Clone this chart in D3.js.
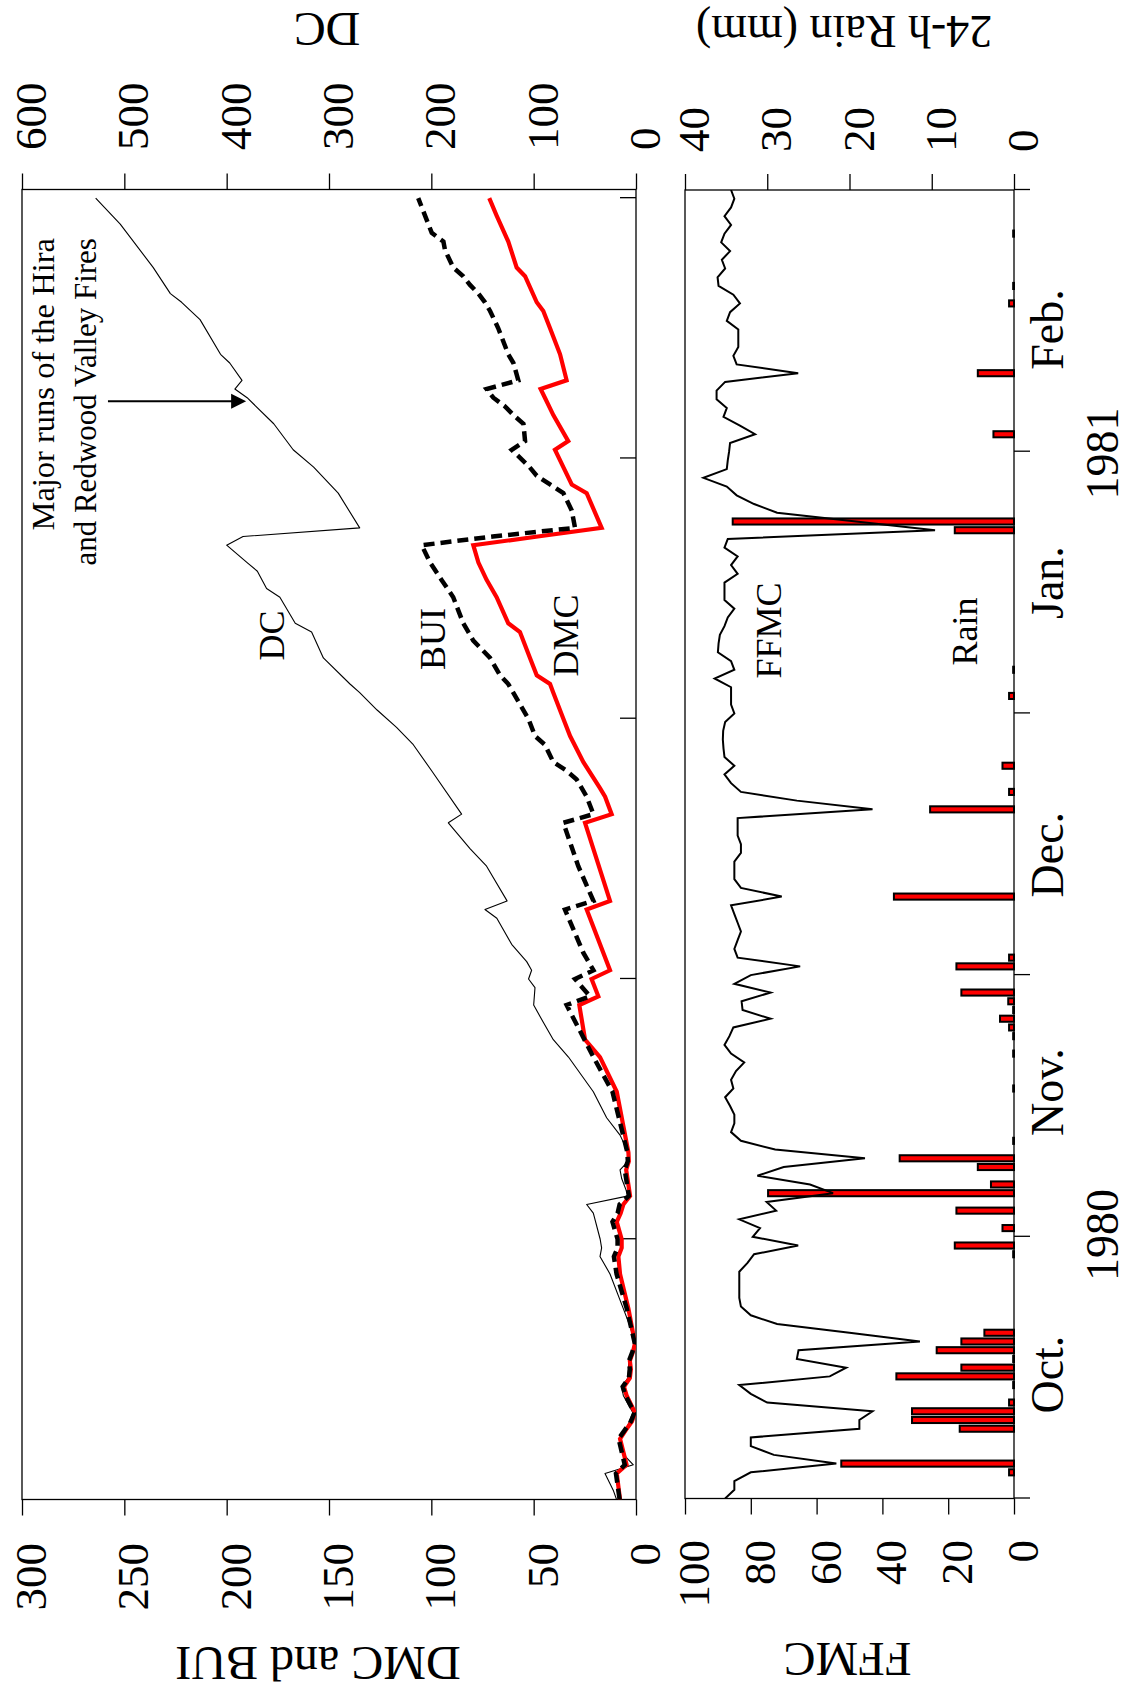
<!DOCTYPE html>
<html>
<head>
<meta charset="utf-8">
<script src="https://cdn.jsdelivr.net/npm/d3@7"></script>
<style>
  html, body { margin: 0; padding: 0; background: #fff; }
  svg { display: block; background: #fff; }
  text { font-family: "Liberation Serif", "Times New Roman", Times, serif; fill: #000; }
</style>
</head>
<body>
<svg id="chart" width="1127" height="1697"></svg>
<script>
// ---------------------------------------------------------------
// Fire weather indices, 1 Oct 1980 – 28 Feb 1981 (day 0 = 1 Oct)
// ---------------------------------------------------------------

// Duff Moisture Code (DMC)
const dmcDays = [0,3,4,7,8,9,10,12,13,14,15,16,17,18,22,26,28,29,30,32,33,34,35,38,39,40,47,51,53,57,58,60,61,68,69,78,79,81,82,85,88,90,93,94,95,97,100,101,104,106,108,110,111,112,116,117,119,121,122,125,127,128,129,132,135,137,138,141,142,145,148,150];
const dmcValues = [7.8,9.4,4.6,7.8,5,2,0.5,4.6,5.9,3,2.5,3,1.5,0.5,3.7,7.8,8.6,7.0,7.0,9.4,7.5,6.2,2.9,4.8,3.5,3.7,9.4,17.6,24.9,27.7,18.4,21.7,12.7,24.1,12.7,24.9,11.9,15.1,17.6,25.7,32.2,35.5,40.4,42,48.5,51.8,56.7,62.4,68.1,73,77,79.5,48,16.8,24.1,31.4,35.5,39.6,33.1,40.4,44.5,46.6,33.9,37.1,42,45.3,48.5,54.2,58.3,62.4,68.1,71.7];

// Buildup Index (BUI)
const buiDays = [0,3,4,7,8,9,10,12,13,14,15,16,17,18,22,26,28,29,30,32,33,34,35,38,39,40,47,51,57,58,60,61,63,68,69,73,78,79,81,83,84,85,87,88,90,92,94,95,97,98,99,101,104,106,108,110,111,112,114,116,117,118,119,121,122,124,125,126,127,128,129,131,132,135,137,138,139,140,141,142,144,145,146,150];
const buiValues = [8,9.8,5.5,8.5,5.5,2.5,0.8,5.2,6.5,3.5,3,3.4,1.8,0.6,4.5,9.5,10.8,9,9,11.5,9,8,3.5,5.5,4,4.2,11.5,20.8,33.9,22.5,29.8,20.8,25.7,34.7,20.8,28.2,35.5,20.8,24.1,29,33.9,40.4,44.5,49.3,52.6,57.5,62.4,66.4,71.3,75.4,79.5,84.4,89.3,95,100.6,104.7,70,29.8,31.4,35.5,42,48.5,52,60.7,54.2,55,59.9,64,69.7,73,57.5,59.9,62.4,67.3,71.3,73.8,77,81.1,84.4,89.3,93.3,94.1,99.8,106.4];

// Drought Code (DC)
const dcDays = [0,1,3,4,5,7,8,10,12,13,14,16,18,20,22,26,28,29,30,33,34,35,37,38,39,40,42,44,47,51,53,55,57,59,60,61,62,64,67,68,69,73,75,78,79,84,87,89,91,93,94,97,100,101,104,105,107,108,110,111,112,116,119,121,124,127,128,129,131,132,136,138,139,142,147,150];
const dcValues = [19,22,30.3,2.6,10.7,15,10,3,12.4,14,8,7,1,5.9,12.4,25.4,35.2,33.6,35,41.7,48.2,7.5,14,15.6,7.5,7.5,15.6,28.7,41.7,66,80.8,90.6,100,98.7,105,102,106.8,121.5,136,147.6,126,146,162,183.4,170.4,199.7,217.6,234,253,270,279.5,305.5,317,333,348,361,370,380,400,384,270,291,315,335,354,380,392,385,397,406,426,444,455,471.7,504,528];

// Fine Fuel Moisture Code (FFMC), one value per day 0..150
const ffmcValues = [87.8,85,85,80,54,73,80,80,47,47,43,75,80,83.5,56,51,66,65.5,28.6,50,
  72,80,83,83.5,83.5,83.5,83.5,81,79,65.6,79.4,77.2,83.5,72.3,75.2,55,62,78,70,45.3,
  72.6,83,86,85,85,86.3,87.8,85.3,86,84.5,82,86,88,86.5,85.3,74,82.5,82.8,74,85,
  80,65,84,85,84,83,84,85,86,70.6,83,85,85,85,83,83,84,84,84,43,
  66,83,86,88,85,88,88.3,88.5,88.4,87.8,85,86,86,86,91,85,86,90,89.8,89.4,
  88,87,85,88,88,88,84,86,84,88,87,24,48,72,79,84.3,87.3,94.4,87.3,87,
  86.6,86.3,78.7,83.3,88.3,87.3,90.4,90.4,87.8,65.6,84.3,85.3,83.8,83.8,83.8,87.3,86.3,83.3,85.3,89.8,
  90.1,87.8,88.8,86.3,89,88,86,88,86,85,86];

// 24-h rainfall (mm) on the days it fell
const rainDays = [3,4,8,9,10,11,13,14,15,16,17,18,19,28,29,31,33,35,36,38,39,41,47,51,53,54,55,56,57,58,61,62,69,79,81,84,92,95,111,112,122,129,137,139,145];
const rainValues = [0.6,21.0,6.6,12.4,12.4,0.6,0.1,14.3,6.4,0.1,9.4,6.4,3.6,0.1,7.2,1.4,7.0,29.9,2.8,4.4,13.9,0.1,0.1,0.1,0.1,0.6,1.7,0.1,0.7,6.4,7.0,0.6,14.6,10.2,0.6,1.4,0.6,0.1,7.2,34.2,2.5,4.4,0.6,0.1,0.1];

// Axis ticks and labels
const dmcTicks = [0,50,100,150,200,250,300];
const dmcMinor = [25,75,125,175,225,275];
const dcTicks = [0,100,200,300,400,500,600];
const dcMinor = [50,150,250,350,450,550];
const ffmcTicks = [0,20,40,60,80,100];
const ffmcMinor = [10,30,50,70,90];
const rainTicks = [0,10,20,30,40];
const rainMinor = [5,15,25,35];
const dayTicks = [0,30,60,90,120,150];
const monthNames = ["Oct.","Nov.","Dec.","Jan.","Feb."];
const monthPos = [14.2,46.6,73.8,105,134];
const yearNames = ["1980","1981"];
const yearPos = [30.2,119.8];

// ---------------------------------------------------------------
// Drawing: the plot is laid out landscape and turned a quarter turn
// ---------------------------------------------------------------
const FW = 1697; // landscape frame width (page height)
const svg = d3.select("#chart");
svg.append("rect").attr("width", 1127).attr("height", 1697).attr("fill", "#fff");
const g = svg.append("g").attr("transform", `translate(0,${FW}) rotate(-90)`);

const topP = {x0: 197.5, x1: 1507.5, y0: 22, y1: 636};
const botP = {x0: 198.5, x1: 1507, y0: 685, y1: 1014};

const xTop = d3.scaleLinear().domain([0, 151]).range([topP.x0, topP.x1]);
const xBot = d3.scaleLinear().domain([0, 150]).range([botP.x0, botP.x1]);
const yDmc = d3.scaleLinear().domain([0, 300]).range([topP.y1, topP.y0]);
const yDc = d3.scaleLinear().domain([0, 600]).range([topP.y1, topP.y0]);
const yFfmc = d3.scaleLinear().domain([0, 100]).range([botP.y1, botP.y0]);
const yRain = d3.scaleLinear().domain([0, 40]).range([botP.y1, botP.y0]);

const TICK = 16, MINOR = 11, FS_TICK = 45;

function valueAxis(scale, major, minor, xPos, side, labelGap) {
  const mk = side === "left" ? d3.axisLeft : d3.axisRight;
  const ga = g.append("g").attr("transform", `translate(${xPos},0)`);
  ga.call(mk(scale).tickValues(minor).tickSize(MINOR).tickFormat(""));
  ga.call(mk(scale).tickValues(major).tickSize(TICK).tickPadding(labelGap - TICK).tickFormat(d3.format("d")));
  ga.selectAll(".domain").remove();
  ga.selectAll("line").attr("stroke", "#000").attr("stroke-width", 1.3);
  ga.selectAll("text")
    .attr("dy", null).attr("y", 23.5)
    .style("font-size", FS_TICK + "px")
    .style("font-family", '"Liberation Serif", "Times New Roman", serif')
    .attr("fill", "#000");
}

valueAxis(yDmc, dmcTicks, dmcMinor, topP.x0, "left", 43.5);
valueAxis(yDc, dcTicks, dcMinor, topP.x1, "right", 39.5);
valueAxis(yFfmc, ffmcTicks, ffmcMinor, botP.x0, "left", 41.5);
valueAxis(yRain, rainTicks, rainMinor, botP.x1, "right", 38);

// time ticks: inward on the upper panel, outward below the lower panel
const tTop = g.append("g").attr("transform", `translate(0,${topP.y1})`)
  .call(d3.axisBottom(xTop).tickValues(dayTicks.filter(d => d > 0)).tickSize(-TICK).tickFormat(""));
tTop.selectAll(".domain").remove();
tTop.selectAll("line").attr("stroke", "#000").attr("stroke-width", 1.3);

const tBot = g.append("g").attr("transform", `translate(0,${botP.y1})`)
  .call(d3.axisBottom(xBot).tickValues(dayTicks).tickSize(TICK).tickFormat(""));
tBot.selectAll(".domain").remove();
tBot.selectAll("line").attr("stroke", "#000").attr("stroke-width", 1.3);

// panel frames
[topP, botP].forEach(p => {
  g.append("rect").attr("x", p.x0).attr("y", p.y0)
    .attr("width", p.x1 - p.x0).attr("height", p.y1 - p.y0)
    .attr("fill", "none").attr("stroke", "#000").attr("stroke-width", 1.3);
});

// clip paths for the two panels
const defs = svg.append("defs");
defs.append("clipPath").attr("id", "clipTop").append("rect")
  .attr("x", topP.x0).attr("y", topP.y0).attr("width", topP.x1 - topP.x0).attr("height", topP.y1 - topP.y0);
defs.append("clipPath").attr("id", "clipBot").append("rect")
  .attr("x", botP.x0).attr("y", botP.y0).attr("width", botP.x1 - botP.x0).attr("height", botP.y1 - botP.y0 + 1);

const zip = (a, b) => a.map((d, i) => [d, b[i]]);

// upper panel: DC, DMC, BUI
const topG = g.append("g").attr("clip-path", "url(#clipTop)");
topG.append("path").datum(zip(dcDays, dcValues))
  .attr("d", d3.line().x(d => xTop(d[0])).y(d => yDc(d[1])))
  .attr("fill", "none").attr("stroke", "#000").attr("stroke-width", 1.1).attr("stroke-linejoin", "round");
topG.append("path").datum(zip(dmcDays, dmcValues))
  .attr("d", d3.line().x(d => xTop(d[0])).y(d => yDmc(d[1])))
  .attr("fill", "none").attr("stroke", "#ff0000").attr("stroke-width", 4.2).attr("stroke-linejoin", "miter");
topG.append("path").datum(zip(buiDays, buiValues))
  .attr("d", d3.line().x(d => xTop(d[0])).y(d => yDmc(d[1])))
  .attr("fill", "none").attr("stroke", "#000").attr("stroke-width", 4.5)
  .attr("stroke-dasharray", "11,6");

// lower panel: rain bars and FFMC
const botG = g.append("g").attr("clip-path", "url(#clipBot)");
const barW = 0.7 * (xBot(1) - xBot(0));
botG.selectAll("rect.rain").data(zip(rainDays, rainValues)).join("rect")
  .attr("class", "rain")
  .attr("x", d => xBot(d[0]) - barW / 2)
  .attr("width", barW)
  .attr("y", d => yRain(d[1]))
  .attr("height", d => yRain(0) - yRain(d[1]))
  .attr("fill", "#ff0000").attr("stroke", "#000").attr("stroke-width", 2);
botG.append("path").datum(ffmcValues.map((v, i) => [i, v]))
  .attr("d", d3.line().x(d => xBot(d[0])).y(d => yFfmc(d[1])))
  .attr("fill", "none").attr("stroke", "#000").attr("stroke-width", 2).attr("stroke-linejoin", "miter");

// axis titles
function title(txt, x, y, size) {
  g.append("text").attr("transform", `translate(${x},${y}) rotate(-90)`)
    .attr("text-anchor", "middle").style("font-size", size + "px").text(txt);
}
title("DMC and BUI", 50, 318, 48);
title("FFMC", 54, 847.5, 48);
title("DC", 1684, 327, 48);
title("24-h Rain (mm)", 1681, 844, 46);

// month and year labels under the time axis
g.selectAll("text.month").data(monthNames).join("text").attr("class", "month")
  .attr("x", (d, i) => xBot(monthPos[i])).attr("y", 1063)
  .attr("text-anchor", "middle").style("font-size", "46px").text(d => d);
g.selectAll("text.year").data(yearNames).join("text").attr("class", "year")
  .attr("x", (d, i) => xBot(yearPos[i])).attr("y", 1118)
  .attr("text-anchor", "middle").style("font-size", "46px").text(d => d);

// series labels inside the panels
function seriesLabel(txt, x, y) {
  g.append("text").attr("x", x).attr("y", y).attr("text-anchor", "middle")
    .style("font-size", "36px").text(txt);
}
seriesLabel("DC", xTop(99.6), 284);
seriesLabel("BUI", xTop(99.2), 445);
seriesLabel("DMC", xTop(99.6), 578);
seriesLabel("FFMC", xBot(99.5), 781);
seriesLabel("Rain", xBot(99.4), 977);

// annotation: major fire runs
const annDay = 126.6;
g.append("text").attr("x", xTop(145.4)).attr("y", yDc(568.7)).attr("text-anchor", "end")
  .style("font-size", "32.5px").text("Major runs of the Hira");
g.append("text").attr("x", xTop(145.4)).attr("y", yDc(527.7)).attr("text-anchor", "end")
  .style("font-size", "31px").text("and Redwood Valley Fires");
const ax = xTop(annDay), ay0 = yDc(516), ay1 = yDc(381);
g.append("line").attr("x1", ax).attr("x2", ax).attr("y1", ay0).attr("y2", ay1 - 13)
  .attr("stroke", "#000").attr("stroke-width", 2);
g.append("path").attr("d", `M${ax},${ay1} L${ax - 7.5},${ay1 - 15} L${ax + 7.5},${ay1 - 15} Z`).attr("fill", "#000");
</script>
</body>
</html>
